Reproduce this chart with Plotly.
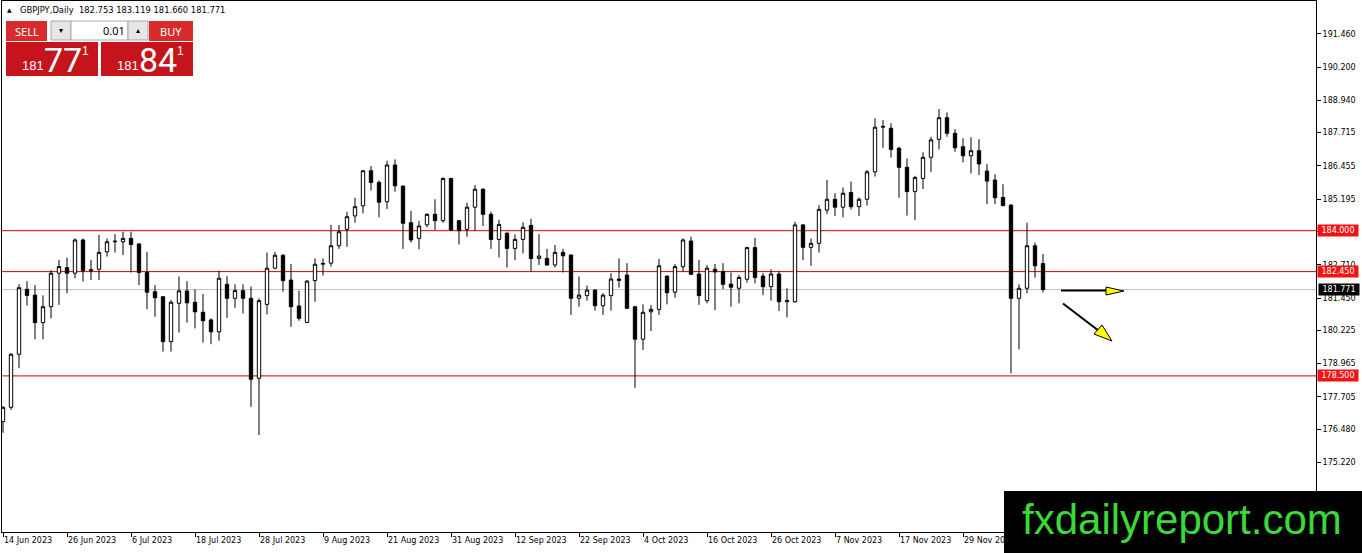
import plotly.graph_objects as go
import pandas as pd

# GBPJPY daily candles, 14 Jun 2023 - 13 Dec 2023 (weekdays)
dates = pd.bdate_range("2023-06-14", "2023-12-13").strftime("%Y-%m-%d").tolist()

opens = [
    176.77, 177.31, 179.32, 181.78, 181.56, 180.52, 181.12, 182.39, 182.60, 182.39,
    183.65, 182.48, 182.54, 183.20, 183.58, 183.58, 183.71, 183.50, 182.42, 181.69,
    181.50, 179.80, 181.25, 181.72, 181.29, 180.91, 180.62, 180.17, 181.97, 181.44,
    181.73, 181.44, 178.41, 181.21, 182.58, 183.07, 182.13, 181.15, 180.52, 182.11,
    182.73, 182.77, 183.43, 184.05, 184.56, 184.94, 186.27, 185.83, 185.10, 186.49,
    185.69, 184.30, 183.71, 184.22, 184.62, 184.38, 185.98, 184.38, 184.05, 184.89,
    185.57, 184.62, 183.67, 183.90, 183.33, 183.67, 184.20, 182.95, 182.95, 182.70,
    183.18, 183.08, 181.44, 181.54, 181.75, 181.16, 181.54, 182.17, 182.32, 181.12,
    179.89, 180.93, 181.02, 182.28, 181.67, 182.64, 183.61, 182.36, 181.35, 182.54,
    182.45, 181.98, 181.82, 182.16, 183.36, 182.28, 181.88, 182.36, 181.31, 181.31,
    184.22, 183.37, 183.52, 184.78, 185.19, 184.89, 185.45, 184.91, 185.19, 186.23,
    187.92, 187.88, 187.12, 186.40, 185.48, 185.98, 186.78, 187.46, 188.28, 187.69,
    187.18, 186.84, 187.03, 186.26, 185.92, 185.26, 184.97, 181.44, 181.82, 183.43,
    182.753,
]
highs = [
    177.35, 179.36, 181.97, 182.09, 181.94, 181.55, 182.51, 182.89, 182.98, 183.71,
    183.70, 182.89, 183.84, 183.71, 183.87, 183.96, 183.96, 183.52, 183.20, 181.94,
    181.52, 181.37, 182.26, 182.09, 181.78, 181.60, 180.68, 182.48, 182.28, 181.97,
    181.97, 181.88, 181.44, 183.17, 183.20, 183.11, 182.74, 181.73, 182.13, 182.95,
    182.95, 184.22, 184.22, 184.72, 185.25, 186.30, 186.45, 185.90, 186.65, 186.70,
    185.71, 184.75, 184.37, 184.66, 185.19, 186.02, 186.00, 184.40, 185.06, 185.73,
    185.61, 184.72, 184.41, 183.96, 183.86, 184.32, 184.45, 183.87, 183.31, 183.46,
    183.31, 183.10, 182.26, 181.92, 181.79, 181.63, 182.39, 182.95, 182.77, 181.14,
    181.21, 181.19, 182.93, 182.30, 182.73, 183.71, 183.77, 182.89, 182.70, 182.74,
    182.77, 182.42, 182.32, 183.39, 183.73, 182.39, 182.54, 182.47, 181.82, 184.34,
    184.25, 183.71, 184.97, 185.92, 185.42, 185.64, 185.86, 185.26, 186.30, 188.26,
    188.19, 188.07, 187.18, 186.74, 186.08, 186.97, 187.56, 188.61, 188.48, 187.85,
    187.50, 187.54, 187.47, 186.52, 186.14, 185.76, 185.01, 181.97, 184.30, 183.55,
    183.119,
]
lows = [
    176.34, 177.21, 178.79, 181.16, 179.89, 179.89, 180.68, 181.19, 181.63, 182.20,
    182.07, 182.13, 182.13, 183.02, 183.17, 183.08, 182.42, 181.94, 181.03, 180.74,
    179.42, 179.42, 180.14, 180.52, 180.30, 179.76, 179.70, 179.83, 180.70, 181.08,
    180.87, 177.33, 176.26, 180.83, 182.54, 181.69, 180.36, 180.59, 180.50, 181.31,
    182.30, 182.64, 183.31, 183.39, 184.30, 184.66, 185.52, 184.51, 184.82, 185.48,
    183.31, 183.55, 183.30, 184.13, 184.03, 184.30, 183.99, 183.48, 183.77, 183.99,
    184.18, 183.31, 182.99, 182.61, 182.89, 183.14, 182.45, 182.70, 182.67, 182.61,
    182.42, 180.81, 181.12, 181.35, 180.97, 180.81, 180.97, 181.84, 181.04, 178.05,
    179.48, 180.20, 180.81, 181.21, 181.46, 182.45, 182.32, 181.19, 181.25, 180.99,
    181.79, 181.12, 181.25, 182.03, 182.01, 181.56, 181.35, 180.96, 180.72, 181.27,
    182.89, 182.67, 183.17, 184.63, 184.56, 184.51, 184.81, 184.56, 184.95, 186.05,
    187.14, 186.77, 185.25, 184.57, 184.41, 185.58, 186.23, 187.08, 187.56, 186.99,
    186.59, 186.17, 186.11, 185.01, 185.01, 184.93, 178.60, 179.51, 181.63, 182.22,
    181.660,
]
closes = [
    177.31, 179.32, 181.84, 181.55, 180.52, 181.12, 182.39, 182.64, 182.39, 183.65,
    182.48, 182.52, 183.18, 183.58, 183.60, 183.71, 183.48, 182.42, 181.67, 181.46,
    179.80, 181.29, 181.72, 181.27, 180.93, 180.59, 180.17, 182.20, 181.44, 181.73,
    181.44, 178.37, 181.35, 182.58, 183.07, 182.11, 181.12, 180.68, 182.09, 182.73,
    182.76, 183.43, 183.96, 184.53, 184.91, 186.27, 185.83, 185.08, 186.49, 185.70,
    184.28, 183.65, 184.18, 184.62, 184.38, 185.98, 184.03, 184.00, 184.89, 185.57,
    184.62, 183.67, 184.24, 183.33, 183.67, 184.13, 182.95, 183.04, 182.70, 183.18,
    183.05, 181.44, 181.56, 181.75, 181.16, 181.56, 182.17, 182.12, 181.06, 179.89,
    180.91, 181.02, 182.67, 181.65, 182.64, 183.65, 182.35, 181.54, 182.58, 182.44,
    181.97, 181.86, 182.23, 183.36, 182.23, 181.88, 182.36, 181.31, 181.35, 184.22,
    183.37, 183.52, 184.81, 185.19, 184.89, 185.42, 184.91, 185.19, 186.23, 187.92,
    187.95, 187.08, 186.40, 185.48, 186.02, 186.78, 187.44, 188.28, 187.69, 187.14,
    186.84, 187.03, 186.53, 185.88, 185.25, 184.95, 181.44, 181.82, 183.43, 182.67,
    181.771,
]

tick_dates = [
    "2023-06-14", "2023-06-26", "2023-07-06", "2023-07-18", "2023-07-28", "2023-08-09",
    "2023-08-21", "2023-08-31", "2023-09-12", "2023-09-22", "2023-10-04", "2023-10-16",
    "2023-10-26", "2023-11-07", "2023-11-17", "2023-11-29",
]
tick_text = [
    "14 Jun 2023", "26 Jun 2023", "6 Jul 2023", "18 Jul 2023", "28 Jul 2023", "9 Aug 2023",
    "21 Aug 2023", "31 Aug 2023", "12 Sep 2023", "22 Sep 2023", "4 Oct 2023", "16 Oct 2023",
    "26 Oct 2023", "7 Nov 2023", "17 Nov 2023", "29 Nov 2023",
]
price_ticks = [175.220, 176.480, 177.705, 178.965, 180.225, 181.450,
               182.710, 183.970, 185.195, 186.455, 187.715, 188.940, 190.200, 191.460]
levels = [184.000, 182.450, 178.500]
bid = 181.771
ask = 181.841
header = "GBPJPY,Daily\u00a0\u00a0182.753 183.119 181.660 181.771"

FONT = "DejaVu Sans"

# screen pixel -> paper coords (plot area spans x 2..1316, y 1..532)
L, R, T, B = 2, 1316, 1, 532


def px(x):
    return (x - L) / (R - L)


def py(y):
    return (B - y) / (B - T)


fig = go.Figure(go.Candlestick(
    x=dates, open=opens, high=highs, low=lows, close=closes,
    increasing=dict(line=dict(color="black", width=1), fillcolor="white"),
    decreasing=dict(line=dict(color="black", width=1), fillcolor="black"),
    whiskerwidth=0, hoverinfo="skip",
))

shapes = []
# bid line + support/resistance levels
shapes.append(dict(type="line", xref="paper", yref="y", x0=0, x1=1, y0=bid, y1=bid,
                   line=dict(color="#c0c0c0", width=1), layer="below"))
for lv in levels:
    shapes.append(dict(type="line", xref="paper", yref="y", x0=0, x1=1, y0=lv, y1=lv,
                       line=dict(color="#d40000", width=1), layer="below"))


def rect(x0, y0, x1, y1, fill, line=None):
    return dict(type="rect", xref="paper", yref="paper", layer="above",
                x0=px(x0), x1=px(x1), y0=py(y1), y1=py(y0), fillcolor=fill,
                line=dict(color=line or fill, width=1 if line else 0))


def tri(pts, fill):
    path = "M " + " L ".join(f"{px(a)},{py(b)}" for a, b in pts) + " Z"
    return dict(type="path", xref="paper", yref="paper", layer="above", path=path,
                fillcolor=fill, line=dict(color="black", width=1))


# drawn arrows
shapes.append(dict(type="line", xref="paper", yref="paper", layer="above",
                   x0=px(1061), x1=px(1107), y0=py(290.5), y1=py(290.5),
                   line=dict(color="black", width=2)))
shapes.append(tri([(1106, 287), (1106, 295), (1124, 291)], "#ffff00"))
shapes.append(dict(type="line", xref="paper", yref="paper", layer="above",
                   x0=px(1063), x1=px(1099), y0=py(303.5), y1=py(331),
                   line=dict(color="black", width=2)))
shapes.append(tri([(1094, 334), (1102, 325), (1112, 341)], "#ffff00"))

# one-click trading panel
shapes.append(rect(6, 21, 47, 41, "#d92b2b"))
shapes.append(rect(51, 21, 71, 40, "#e6e6e6", "#a8a8a8"))
shapes.append(rect(71, 21, 128, 40, "white", "#a8a8a8"))
shapes.append(rect(128, 21, 148, 40, "#e6e6e6", "#a8a8a8"))
shapes.append(rect(149, 21, 193, 41, "#d92b2b"))
shapes.append(rect(6, 42, 98, 76, "#c5141b"))
shapes.append(rect(101, 42, 193, 76, "#c5141b"))

# logo box
shapes.append(rect(1004, 491, 1362, 553, "black"))

ann = []


def text(x, y, s, size, color="black", xanchor="center", family=FONT):
    ann.append(dict(xref="paper", yref="paper", x=px(x), y=py(y),
                    text=s, showarrow=False, xanchor=xanchor, yanchor="middle",
                    font=dict(family=family, size=size, color=color)))


text(9.5, 10, "\u25b2", 6)
text(18, 10, header, 8.4, xanchor="left")
text(26.5, 31, "SELL", 11, "white", family="Noto Sans")
text(171, 31, "BUY", 11, "white", family="Noto Sans")
text(61, 30.5, "\u25be", 8)
text(138, 30.5, "\u25b4", 8)
text(127, 30.5, "0.01", 11, xanchor="right", family="Noto Sans")

sell_s = f"{bid:.3f}"
buy_s = f"{ask:.3f}"
for s, x0 in [(sell_s, 0), (buy_s, 94.5)]:
    text(33 + x0, 65, s[:3], 13, "white", family="Liberation Sans")
    text(63 + x0, 59.5, s[4:6], 34, "white", family="Liberation Sans Narrow, Roboto")
    text(85.5 + x0, 51, s[6], 12, "white", family="Liberation Sans")

# axis price labels
for lv in levels:
    ann.append(dict(xref="paper", yref="y", x=px(1317), y=lv, xanchor="left", yanchor="middle",
                    text=f"{lv:.3f}", showarrow=False, bgcolor="#f01414", width=40, height=11,
                    borderpad=0, font=dict(family=FONT, size=8, color="white")))
ann.append(dict(xref="paper", yref="y", x=px(1318), y=bid, xanchor="left", yanchor="middle",
                text=f"{bid:.3f}", showarrow=False, bgcolor="black", width=40, height=11,
                borderpad=0, font=dict(family=FONT, size=8, color="white")))

text(1182, 519, "fxdailyreport.com", 42, "#39d939", family="Liberation Sans")

fig.update_layout(
    width=1362, height=553,
    margin=dict(l=L, r=1362 - R, t=T, b=553 - B, pad=0),
    paper_bgcolor="white", plot_bgcolor="white",
    showlegend=False, boxgap=0.4,
    shapes=shapes, annotations=ann,
    xaxis=dict(
        type="category", range=[-0.125, 164.125], rangeslider=dict(visible=False),
        tickvals=tick_dates, ticktext=tick_text, ticks="outside", ticklen=4,
        tickcolor="black", showline=True, linecolor="black", linewidth=1, mirror=True,
        showgrid=False, zeroline=False, automargin=False,
        ticklabelposition="outside right",
        tickfont=dict(family=FONT, size=8, color="black"),
    ),
    yaxis=dict(
        side="right", range=[172.587, 192.701], tickvals=price_ticks,
        ticktext=[f"{v:.3f}" for v in price_ticks], ticks="outside", ticklen=4,
        tickcolor="black", showline=True, linecolor="black", linewidth=1, mirror=True,
        showgrid=False, zeroline=False, automargin=False,
        tickfont=dict(family=FONT, size=8, color="black"),
    ),
)

fig.write_html("out.html", config={"displayModeBar": False},
               post_script="document.body.style.margin='0';")
